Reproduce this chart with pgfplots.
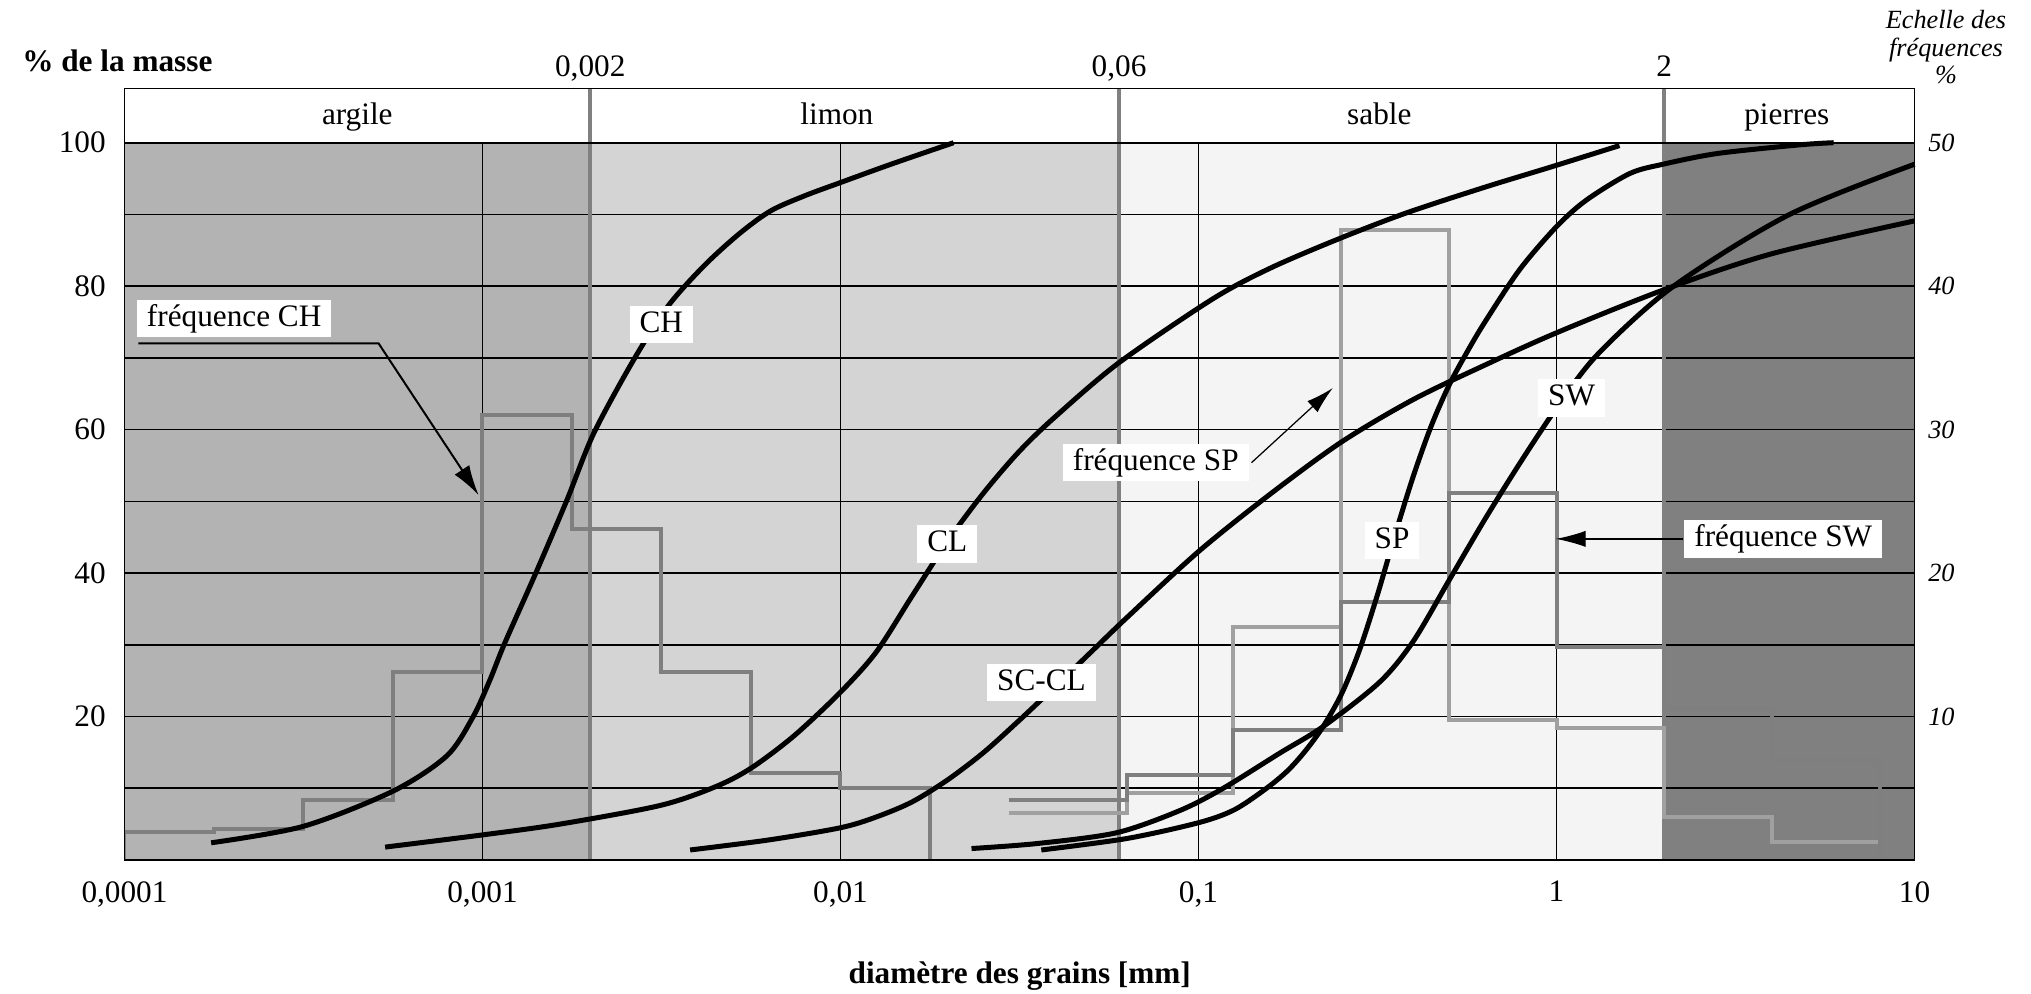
\documentclass[border=0pt]{standalone}
\usepackage{fontspec}
\setmainfont{Liberation Serif}
\usepackage{pgfplots}
\pgfplotsset{compat=1.18}
\usetikzlibrary{arrows.meta}
\definecolor{argile}{HTML}{B3B3B3}
\definecolor{limon}{HTML}{D4D4D4}
\definecolor{sable}{HTML}{F4F4F4}
\definecolor{pierres}{HTML}{808080}
\definecolor{fdark}{HTML}{7F7F7F}
\definecolor{flight}{HTML}{A0A0A0}
\definecolor{bound}{HTML}{808080}
\pgfplotsset{every axis/.append style={at={(0pt,0pt)}, anchor=south west, scale only axis,
  width=716pt, height=308.68pt, xmin=1e-4, xmax=10}}
\tikzset{grd/.style={black, line width=0.65pt},
  bnd/.style={bound, line width=1.7pt},
  lab/.style={fill=white, inner xsep=4pt, inner ysep=2pt, text height=8.4pt, text depth=2.5pt, font=\fontsize{12.5}{14}\selectfont},
  curve/.style={black, line width=2pt, smooth}}
\begin{document}
\begin{tikzpicture}
\path[use as bounding box] (-49.8pt,-53.2pt) rectangle (762.6pt,344pt);
% ---------- backgrounds and grid (left scale) ----------
\begin{axis}[xmode=log, ymin=0, ymax=107.585, hide axis, clip=false]
\fill[argile]  (axis cs:1e-4,0) rectangle (axis cs:0.002,100);
\fill[limon]   (axis cs:0.002,0) rectangle (axis cs:0.06,100);
\fill[sable]   (axis cs:0.06,0) rectangle (axis cs:2,100);
\fill[pierres] (axis cs:2,0) rectangle (axis cs:10,100);
\draw[grd] (axis cs:1e-4,10) -- (axis cs:10,10);
\draw[grd] (axis cs:1e-4,20) -- (axis cs:10,20);
\draw[grd] (axis cs:1e-4,30) -- (axis cs:10,30);
\draw[grd] (axis cs:1e-4,40) -- (axis cs:10,40);
\draw[grd] (axis cs:1e-4,50) -- (axis cs:10,50);
\draw[grd] (axis cs:1e-4,60) -- (axis cs:10,60);
\draw[grd] (axis cs:1e-4,70) -- (axis cs:10,70);
\draw[grd] (axis cs:1e-4,80) -- (axis cs:10,80);
\draw[grd] (axis cs:1e-4,90) -- (axis cs:10,90);
\draw[grd] (axis cs:0.001,0) -- (axis cs:0.001,100);
\draw[grd] (axis cs:0.01,0) -- (axis cs:0.01,100);
\draw[grd] (axis cs:0.1,0) -- (axis cs:0.1,100);
\draw[grd] (axis cs:1,0) -- (axis cs:1,100);
\draw[bnd] (axis cs:0.002,0) -- (axis cs:0.002,107.585);
\draw[bnd] (axis cs:0.06,0) -- (axis cs:0.06,107.585);
\draw[bnd] (axis cs:2,0) -- (axis cs:2,107.585);
\end{axis}
% ---------- frequencies (right scale, %) ----------
\begin{axis}[xmode=log, ymin=0, ymax=53.7925, axis x line=none, axis y line*=right,
  ytick={10,20,30,40,50}, yticklabels={10,20,30,40,50},
  yticklabel style={font=\fontsize{10.5}{12}\selectfont\itshape, xshift=2pt},
  major tick length=0pt, minor tick length=0pt, axis line style={line width=0.6pt}]
% frequence CH
\addplot[const plot, fdark, line width=1.6pt] coordinates {
 (1e-4,0) (1e-4,1.97) (1.778e-4,2.14) (3.162e-4,4.18) (5.623e-4,13.1)
 (1e-3,31.0) (1.778e-3,23.1) (3.162e-3,13.1) (5.623e-3,6.05) (1e-2,5.04) (1.778e-2,0)};
% frequence SP
\addplot[const plot, flight, line width=1.6pt] coordinates {
 (0.0295,3.25) (0.063,4.65) (0.125,16.26) (0.25,43.9) (0.5,9.76) (1,9.18) (2,3.02) (4,1.28) (8,0)};
% frequence SW
\addplot[const plot, fdark, line width=1.6pt] coordinates {
 (0.0295,4.18) (0.063,5.93) (0.125,9.06) (0.25,18.0) (0.5,25.56) (1,14.87) (2,10.5) (4,7) (8,0)};
\end{axis}
% ---------- cumulative curves (left scale) ----------
\begin{axis}[xmode=log, ymin=0, ymax=107.585, clip=false,
  xtick={1e-4,1e-3,1e-2,1e-1,1,10}, xticklabels={{0,0001},{0,001},{0,01},{0,1},1,10},
  ytick={20,40,60,80,100}, yticklabels={20,40,60,80,100},
  major tick length=0pt, minor tick length=0pt, xminorticks=false,
  tick label style={font=\fontsize{12.5}{14}\selectfont},
  xticklabel style={yshift=-5pt}, yticklabel style={xshift=-4pt},
  axis line style={line width=0.6pt}, xtick pos=bottom, ytick pos=left]
% CH
\addplot[curve] coordinates {
 (1.746e-4,2.4) (3.162e-4,4.7) (5.623e-4,9.6) (7.943e-4,14.5) (9.397e-4,19.9)
 (1.047e-3,25) (1.153e-3,30.2) (1.409e-3,40) (1.722e-3,50.2) (2.046e-3,59.5)
 (2.649e-3,69.8) (3.296e-3,77.2) (4.150e-3,82.8) (5.212e-3,87.3) (6.383e-3,90.5)
 (7.943e-3,92.6) (9.817e-3,94.3) (1.384e-2,97) (2.070e-2,100)};
% CL
\addplot[curve] coordinates {
 (5.346e-4,1.8) (1e-3,3.5) (1.644e-3,5.0) (3.133e-3,7.6) (4.467e-3,10.2) (5.623e-3,12.8)
 (7.413e-3,17.3) (0.01,23.4) (0.012589,29.0) (0.015849,36.8) (0.019953,44.5)
 (0.025119,51.2) (0.031623,57) (0.039811,61.8) (0.059841,69.3) (0.10940,78.2)
 (0.15849,82.5) (0.24378,86.5) (0.38019,90.2) (0.63096,93.8) (0.97724,96.7) (1.4997,99.6)};
% SC-CL
\addplot[curve] coordinates {
 (3.802e-3,1.4) (6.310e-3,2.8) (0.01,4.5) (0.012589,6.0) (0.015849,8.1) (0.019953,11.2)
 (0.025119,15.0) (0.031623,19.5) (0.039811,24.2) (0.050119,29.0) (0.063096,33.8)
 (0.1,43.0) (0.15849,51.0) (0.25119,58.3) (0.39811,64.2) (0.63096,69.0) (1,73.5)
 (1.9953,79.5) (3.9811,84.5) (10,89.1)};
% SW
\addplot[curve] coordinates {
 (0.023227,1.6) (0.035481,2.3) (0.059020,3.8) (0.088716,6.9) (0.11722,10) (0.16866,14.9)
 (0.22284,18.6) (0.32063,24.8) (0.39811,30.5) (0.50119,39) (0.63096,47.5) (0.79433,55.5)
 (1,63) (1.3032,70.5) (2.1232,80) (4.4771,90) (10,97)};
% SP
\addplot[curve] coordinates {
 (0.036392,1.4) (0.063096,3.0) (0.1,5.2) (0.12589,7.0) (0.15488,10.0) (0.17783,12.5)
 (0.19953,15.3) (0.22284,18.6) (0.25119,23.2) (0.28184,29.3) (0.31623,37) (0.35481,45.5)
 (0.39811,53.5) (0.44668,60.5) (0.50119,66.2) (0.56234,70.8) (0.63096,75) (0.78886,82.3)
 (1,88.3) (1.2119,92) (1.6015,95.7) (1.9845,97) (2.8184,98.5) (4.7753,99.7) (5.9429,100)};
% thick lines
\draw[line width=0.95pt] (axis cs:1e-4,100) -- (axis cs:10,100);
\draw[line width=0.95pt] (axis cs:1e-4,0) -- (axis cs:10,0);
% header
\node[anchor=base, font=\fontsize{12.5}{14}\selectfont] at (axis cs:4.47e-4,102.47) {argile};
\node[anchor=base, font=\fontsize{12.5}{14}\selectfont] at (axis cs:0.00977,102.47) {limon};
\node[anchor=base, font=\fontsize{12.5}{14}\selectfont] at (axis cs:0.32,102.47) {sable};
\node[anchor=base, font=\fontsize{12.5}{14}\selectfont] at (axis cs:4.4,102.47) {pierres};
\node[anchor=base, font=\fontsize{12.5}{14}\selectfont, yshift=4.6pt] at (axis cs:0.002,107.585) {0,002};
\node[anchor=base, font=\fontsize{12.5}{14}\selectfont, yshift=4.6pt] at (axis cs:0.06,107.585) {0,06};
\node[anchor=base, font=\fontsize{12.5}{14}\selectfont, yshift=4.6pt] at (axis cs:2,107.585) {2};
% arrows
\draw[line width=0.8pt, -{Latex[length=12pt,width=7pt]}] (axis cs:1.094e-4,72.03) -- (axis cs:5.125e-4,72.03) -- (axis cs:9.75e-4,50.89);
\draw[line width=0.5pt, -{Latex[length=11pt,width=6pt]}] (axis cs:0.1407,55.4) -- (axis cs:0.2372,65.8);
\draw[line width=0.5pt, -{Latex[length=12pt,width=6.5pt]}] (axis cs:2.25,44.77) -- (axis cs:0.995,44.77);
% labels
\node[lab] at (axis cs:2.025e-4,75.47) {fréquence CH};
\node[lab] at (axis cs:3.158e-3,74.63) {CH};
\node[lab] at (axis cs:0.01989,44.07) {CL};
\node[lab] at (axis cs:0.03643,24.7) {SC-CL};
\node[lab] at (axis cs:0.07599,55.37) {fréquence SP};
\node[lab] at (axis cs:0.3473,44.5) {SP};
\node[lab] at (axis cs:1.102,64.41) {SW};
\node[lab] at (axis cs:4.301,44.77) {fréquence SW};
\end{axis}
\node[anchor=base west, font=\fontsize{12.5}{14}\selectfont\bfseries] at (-44.4pt,315.3pt) {\% de la masse};
\node[anchor=north, align=center, inner sep=0pt, font=\fontsize{10.5}{11}\selectfont\itshape] at (728.6pt,340pt) {Echelle des\\fréquences\\\%};
\node[anchor=base, font=\fontsize{12.5}{14}\selectfont\bfseries] at (358.1pt,-49.2pt) {diamètre des grains [mm]};
\end{tikzpicture}
\end{document}
